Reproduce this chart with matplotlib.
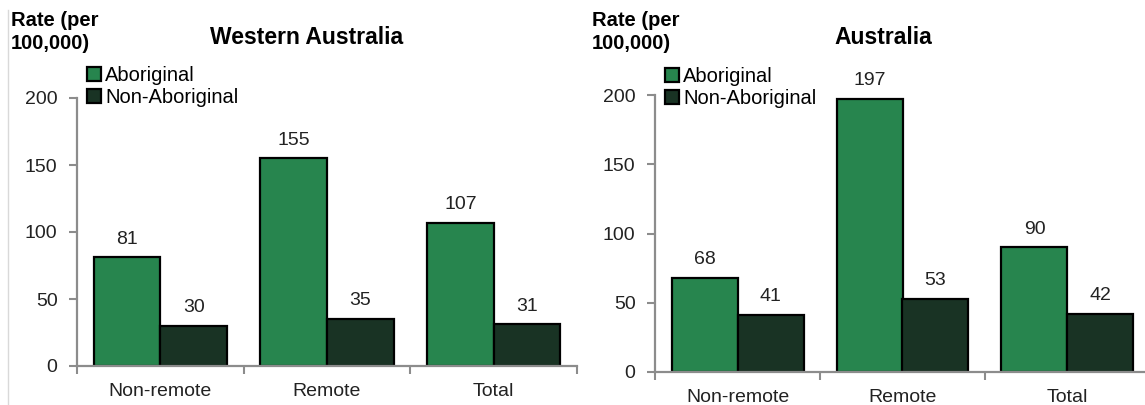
import matplotlib.pyplot as plt
import numpy as np
from matplotlib.lines import Line2D

plt.rcParams['font.family'] = ['Liberation Sans', 'DejaVu Sans']

#DATOS
categorias = ['Non-remote', 'Remote', 'Total']
series = ['Aboriginal', 'Non-Aboriginal']
wa_aboriginal = [81, 155, 107]
wa_non_aboriginal = [30, 35, 31]
aus_aboriginal = [68, 197, 90]
aus_non_aboriginal = [41, 53, 42]
yticks = [0, 50, 100, 150, 200]

verde = '#27854e'
oscuro = '#193324'
gris = '#8c8c8c'

W, H = 1145, 405
fig = plt.figure(figsize=(W / 100, H / 100), dpi=100)


def px(x0, y0, x1, y1):
    # caja en pixeles (arriba-izquierda) -> fraccion de figura
    return [x0 / W, 1 - y1 / H, (x1 - x0) / W, (y1 - y0) / H]


def panel(box, abo, nonabo, titulo, tx, ylab_x, leg_x, leg_y):
    ax = fig.add_axes(px(*box))
    x = np.arange(len(categorias))
    b1 = ax.bar(x - 0.2, abo, 0.4, color=verde, edgecolor='black', linewidth=1.6, label=series[0])
    b2 = ax.bar(x + 0.2, nonabo, 0.4, color=oscuro, edgecolor='black', linewidth=1.6, label=series[1])
    for bars in (b1, b2):
        for r in bars:
            ax.annotate(f'{r.get_height():.0f}', (r.get_x() + r.get_width() / 2, r.get_height()),
                        xytext=(0, 7), textcoords='offset points', ha='center', va='bottom',
                        fontsize=14, color='#222222')
    ax.set_xlim(-0.5, 2.5)
    ax.set_ylim(0, 200)
    ax.set_yticks(yticks)
    ax.set_xticks(x)
    ax.set_xticklabels(categorias)
    ax.set_xticks([-0.5, 0.5, 1.5, 2.5], minor=True)
    ax.tick_params(axis='x', which='major', length=0, pad=12, labelsize=14, labelcolor='#222222')
    ax.tick_params(axis='x', which='minor', length=6, width=1.5, color=gris)
    ax.tick_params(axis='y', length=6, width=1.5, color=gris, pad=8, labelsize=14, labelcolor='#222222')
    for s in ['top', 'right']:
        ax.spines[s].set_visible(False)
    for s in ['left', 'bottom']:
        ax.spines[s].set_color(gris)
        ax.spines[s].set_linewidth(1.6)
    ax.legend(loc='upper left', bbox_to_anchor=(leg_x, leg_y), bbox_transform=fig.transFigure,
              frameon=False, fontsize=14.5, handlelength=0.7, handleheight=0.7,
              handletextpad=0.2, labelspacing=0.15, borderpad=0, borderaxespad=0)
    fig.text(tx / W, 1 - 37 / H, titulo, ha='center', va='center', fontsize=16.5, fontweight='bold')
    fig.text(ylab_x / W, 1 - 32 / H, 'Rate (per\n100,000)', ha='left', va='center',
             fontsize=14.5, fontweight='bold', linespacing=1.3)
    return ax


panel((77, 98, 577, 366), wa_aboriginal, wa_non_aboriginal, 'Western Australia', 307, 11, 87 / W, 1 - 66 / H)
panel((655, 95, 1150, 372), aus_aboriginal, aus_non_aboriginal, 'Australia', 883, 592, 665 / W, 1 - 67 / H)

# linea gris fina a la izquierda
fig.add_artist(Line2D([8 / W, 8 / W], [0, 1 - 10 / H], transform=fig.transFigure, color='#d9d9d9', linewidth=1))

fig.savefig('out.png', dpi=100)
